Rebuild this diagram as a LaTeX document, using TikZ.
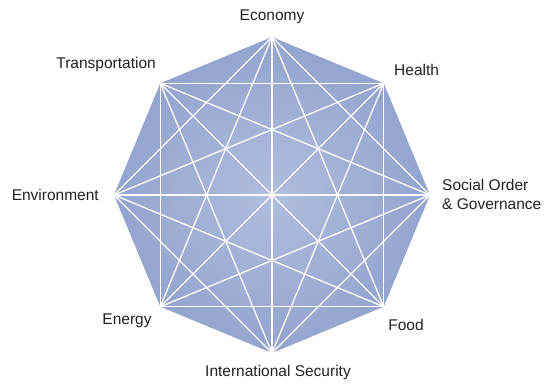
\documentclass[tikz,border=0pt]{standalone}
\usepackage{fontspec}
\setmainfont{Liberation Sans}
\definecolor{octout}{RGB}{124,143,193}
\definecolor{octin}{RGB}{178,189,222}
\definecolor{labeltext}{RGB}{34,34,34}
\pgfdeclareradialshading{octshade}{\pgfpoint{0bp}{0bp}}{color(0bp)=(octin); color(45bp)=(octout); color(50bp)=(octout)}
\tikzset{
  lbl/.style={text=labeltext, font=\fontsize{15.5}{19}\selectfont, inner sep=0pt},
  diag/.style={draw=white, line width=1.3pt}
}
\begin{document}
\begin{tikzpicture}[x=1pt,y=-1pt]
\useasboundingbox (0,0) rectangle (546,383);
\foreach \i/\nm in {0/ec,1/he,2/so,3/fo,4/is,5/en,6/ev,7/tr}{
  \coordinate (\nm) at ({272+158*sin(45*\i)},{195-158*cos(45*\i)});
}
\path[shading=octshade] (ec) -- (he) -- (so) -- (fo) -- (is) -- (en) -- (ev) -- (tr) -- cycle;
\foreach \a/\b in {ec/so,ec/fo,ec/is,ec/en,ec/ev,
                   he/fo,he/is,he/en,he/ev,he/tr,
                   so/is,so/en,so/ev,so/tr,
                   fo/en,fo/ev,fo/tr,
                   is/ev,is/tr,
                   en/tr}{
  \draw[diag, line cap=round] (\a) -- (\b);
}
\node[lbl] (lec) at (272,17) {Economy};
\node[lbl, anchor=west] (lhe) at (394,70) {Health};
\node[lbl, anchor=west, align=left] (lso) at (442,194) {Social Order\\\& Governance};
\node[lbl] (lfo) at (406,325) {Food};
\node[lbl] (lis) at (278,372) {International Security};
\node[lbl] (len) at (127,321) {Energy};
\node[lbl, anchor=east] (lev) at (99,195) {Environment};
\node[lbl, anchor=east] (ltr) at (156,64) {Transportation};
\end{tikzpicture}
\end{document}
